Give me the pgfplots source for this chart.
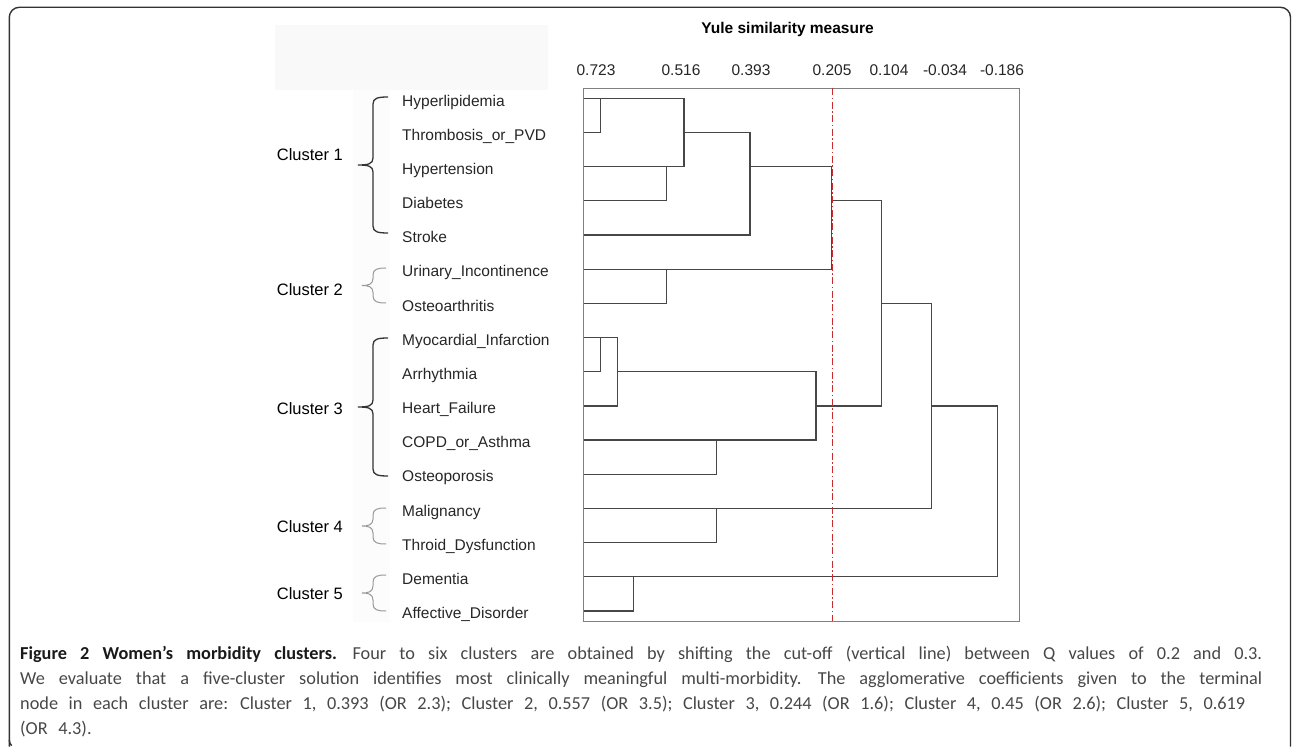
\documentclass[border=0pt]{standalone}
\usepackage{pgfplots}
\pgfplotsset{compat=1.18}
\usepackage{fontspec}
\setmainfont{Liberation Sans}
\newfontfamily\capfont{Carlito}
\definecolor{cutred}{RGB}{200,45,45}
\newcommand\lab{\fontsize{15.5}{18}\selectfont}
\newcommand\wsp{\spaceskip=0.58em plus 0.3em minus 0.02em\xspaceskip=0.66em plus 0.4em}
\newsavebox\ltwo
\newsavebox\lthree
\newcommand\mybrace[6]{% xe, xb, xt, ytop, ybot, style
  \pgfmathsetmacro\ym{(#4+#5)/2}%
  \pgfmathsetmacro\ya{#4+7}%
  \pgfmathsetmacro\yb{\ym-7}%
  \pgfmathsetmacro\yc{\ym+7}%
  \pgfmathsetmacro\yd{#5-7}%
  \pgfmathsetmacro\xbr{#2+5}%
  \pgfmathsetmacro\xbl{#2-5}%
  \draw[#6] (#1,#4) .. controls (\xbr,#4) and (#2,#4+1) .. (#2,\ya) -- (#2,\yb)
     .. controls (#2,\ym-1) and (\xbl,\ym) .. (#3,\ym)
     .. controls (\xbl,\ym) and (#2,\ym+1) .. (#2,\yc) -- (#2,\yd)
     .. controls (#2,#5-1) and (\xbr,#5) .. (#1,#5);%
}
\begin{document}%
\sbox\ltwo{\capfont\fontsize{10}{12}\selectfont\wsp We evaluate that a five-cluster solution identifies most clinically meaningful multi-morbidity. The agglomerative coefficients given to the terminal}%
\sbox\lthree{\capfont\fontsize{10}{12}\selectfont\wsp node in each cluster are: Cluster 1, 0.393 (OR 2.3); Cluster 2, 0.557 (OR 3.5); Cluster 3, 0.244 (OR 1.6); Cluster 4, 0.45 (OR 2.6); Cluster 5, 0.619}%
\pgfmathsetmacro\capsz{min(10*1238/\the\wd\ltwo, 10*1225/\the\wd\lthree)}%
\newcommand\capsize{\fontsize{\capsz pt}{\capsz pt}\selectfont\wsp}%
\begin{tikzpicture}
\useasboundingbox (0,0) rectangle (1292pt,748pt);
\begin{scope}[x=1pt, y=-1pt, shift={(0pt,748pt)}]
  % faint background patches
  \fill[black!2.5] (275,25) rectangle (548,90);
  \fill[black!1.2] (353,90) rectangle (390,622);
  % outer frame
  \draw[black!80, line width=1.4pt, rounded corners=10pt] (9.3,746.5) -- (9.3,7.3) -- (1290.5,7.3) -- (1290.5,746.5);
  \draw[black!80, line width=1.4pt] (9.3,740) arc[start angle=180, end angle=225, radius=8pt];
  % cluster labels
  \node[anchor=west, inner sep=0pt, font=\fontsize{16.5}{19}\selectfont] at (276.7,155) {Cluster 1};
  \node[anchor=west, inner sep=0pt, font=\fontsize{16.5}{19}\selectfont] at (276.7,290) {Cluster 2};
  \node[anchor=west, inner sep=0pt, font=\fontsize{16.5}{19}\selectfont] at (276.7,408.5) {Cluster 3};
  \node[anchor=west, inner sep=0pt, font=\fontsize{16.5}{19}\selectfont] at (276.7,527) {Cluster 4};
  \node[anchor=west, inner sep=0pt, font=\fontsize{16.5}{19}\selectfont] at (276.7,593.5) {Cluster 5};
  % braces
  \mybrace{388}{373}{358}{97}{233}{black!80, line width=1.3pt}
  \mybrace{386}{373}{362}{268}{303}{black!40, line width=1pt}
  \mybrace{388}{373}{358}{338}{476}{black!80, line width=1.3pt}
  \mybrace{386}{373}{362}{508}{544}{black!40, line width=1pt}
  \mybrace{386}{373}{362}{575}{611}{black!40, line width=1pt}
  % caption
  \begin{scope}[every node/.style={anchor=base west, inner sep=0pt, text=black!72, font=\capfont\capsize}]
  \node at (20,659) {\makebox[1242pt][s]{\textbf{\color{black!90}Figure 2 Women’s morbidity clusters.} Four to six clusters are obtained by shifting the cut-off (vertical line) between Q values of 0.2 and 0.3.}};
  \node at (20,684) {\makebox[1242pt][s]{We evaluate that a five-cluster solution identifies most clinically meaningful multi-morbidity. The agglomerative coefficients given to the terminal}};
  \node at (20,709) {node in each cluster are: Cluster 1, 0.393 (OR 2.3); Cluster 2, 0.557 (OR 3.5); Cluster 3, 0.244 (OR 1.6); Cluster 4, 0.45 (OR 2.6); Cluster 5, 0.619};
  \node at (20,734) {(OR 4.3).};
  \end{scope}
\end{scope}
\begin{axis}[
  at={(583.5pt,127pt)}, anchor=south west,
  scale only axis, width=436pt, height=533pt,
  xmin=583.5, xmax=1019.5, ymin=88, ymax=621, y dir=reverse,
  axis line style={black!50, line width=1pt},
  xtick={596,681,751,832,889,945,1002},
  xticklabels={0.723,0.516,0.393,0.205,0.104,-0.034,-0.186},
  xticklabel pos=upper,
  ytick={98.3,132.48,166.66,200.84,235.02,269.2,303.38,337.56,371.74,405.92,440.1,474.28,508.46,542.64,576.82,611},
  yticklabels={Hyperlipidemia,Thrombosis\_or\_PVD,Hypertension,Diabetes,Stroke,Urinary\_Incontinence,Osteoarthritis,Myocardial\_Infarction,Arrhythmia,Heart\_Failure,COPD\_or\_Asthma,Osteoporosis,Malignancy,Throid\_Dysfunction,Dementia,Affective\_Disorder},
  major tick length=0pt,
  tick label style={text=black!85},
  yticklabel style={font=\lab, anchor=base west, inner sep=0pt, xshift=-181.5pt, yshift=-7.7pt},
  xticklabel style={font=\lab, anchor=base, inner sep=0pt, yshift=13pt},
  title={Yule similarity measure},
  title style={at={(0.468,1)}, anchor=base, yshift=48.4pt, inner sep=0pt, font=\bfseries\lab},
  clip=false,
  dend/.style={black!72, line width=1.3pt},
]
% Cluster 1
\addplot[dend] coordinates {(583.5,132.48) (600.7,132.48) (600.7,98.3)};
\addplot[dend] coordinates {(583.5,98.3) (684,98.3) (684,166.66) (583.5,166.66)};
\addplot[dend] coordinates {(583.5,200.84) (666.7,200.84) (666.7,166.66)};
\addplot[dend] coordinates {(684,132.48) (750,132.48)};
\addplot[dend] coordinates {(583.5,235.02) (750,235.02) (750,132.48)};
\addplot[dend] coordinates {(750,166.66) (831.7,166.66) (831.7,269.2) (583.5,269.2)};
% Cluster 2
\addplot[dend] coordinates {(583.5,303.38) (666.7,303.38) (666.7,269.2)};
\addplot[dend] coordinates {(831.7,200.84) (881.7,200.84) (881.7,405.92) (816,405.92)};
% Cluster 3
\addplot[dend] coordinates {(583.5,371.74) (600.7,371.74) (600.7,337.56)};
\addplot[dend] coordinates {(583.5,337.56) (617.7,337.56) (617.7,405.92) (583.5,405.92)};
\addplot[dend] coordinates {(617.7,371.74) (816,371.74) (816,440.1) (583.5,440.1)};
\addplot[dend] coordinates {(583.5,474.28) (716.7,474.28) (716.7,440.1)};
% Cluster 4 and upper merges
\addplot[dend] coordinates {(881.7,303.38) (931.7,303.38) (931.7,508.46) (583.5,508.46)};
\addplot[dend] coordinates {(583.5,542.64) (716.7,542.64) (716.7,508.46)};
% Cluster 5 and root
\addplot[dend] coordinates {(931.7,405.92) (997.7,405.92) (997.7,576.82) (583.5,576.82)};
\addplot[dend] coordinates {(583.5,611) (633.3,611) (633.3,576.82)};
% cut-off line
\addplot[cutred, line width=0.9pt, dash pattern=on 7pt off 2.5pt on 1.5pt off 2.5pt] coordinates {(832.7,88) (832.7,621)};
\end{axis}
\end{tikzpicture}%
\end{document}
